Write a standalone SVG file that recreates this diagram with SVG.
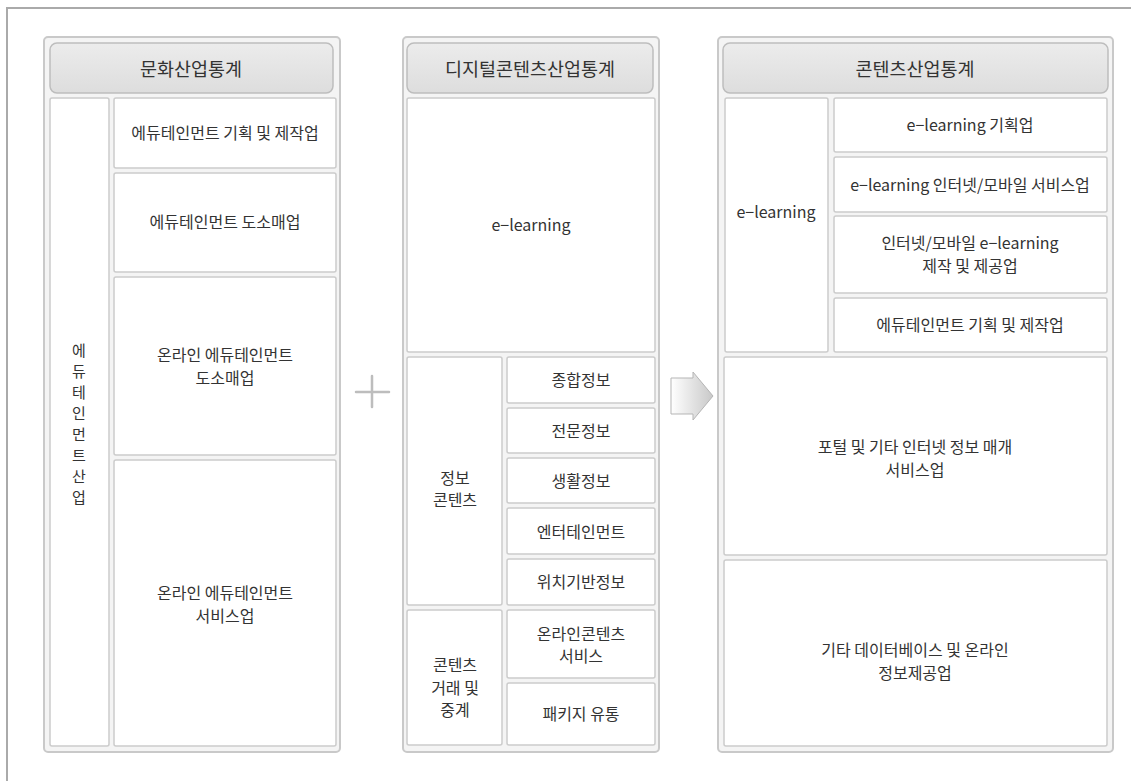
<svg xmlns="http://www.w3.org/2000/svg" width="1131" height="781" viewBox="0 0 1131 781">
<defs>
<linearGradient id="hdr" x1="0" y1="0" x2="0" y2="1"><stop offset="0" stop-color="#ececec"/><stop offset="1" stop-color="#dddddd"/></linearGradient>
<linearGradient id="arr" x1="0" y1="0" x2="1" y2="0"><stop offset="0" stop-color="#ffffff"/><stop offset="1" stop-color="#c8c8c8"/></linearGradient>
<style>
.panel{fill:#f4f4f4;stroke:#c9c9c9;stroke-width:2}
.hdr{fill:url(#hdr);stroke:#bdbdbd;stroke-width:1.5}
.cell{fill:#ffffff;stroke:#cccccc;stroke-width:1.5}
text{font-family:"Noto Sans CJK KR","Noto Sans",sans-serif;fill:#333333;text-anchor:middle}
.h{font-size:18.5px}
.t{font-size:16px}
.v{font-size:15px}
</style>
</defs>
<rect width="1131" height="781" fill="#ffffff"/>
<path d="M1131 8 H7 V781" fill="none" stroke="#aaaaaa" stroke-width="2"/>

<g id="panel-culture">
<rect class="panel" x="44" y="37" width="296" height="715" rx="4"/>
<rect class="hdr" x="50" y="43" width="283" height="50" rx="7"/>
<text class="h" x="191" y="76">문화산업통계</text>
<rect class="cell" x="50" y="98" width="59" height="648" rx="2"/>
<text class="v" x="79" y="356"><tspan x="79">에</tspan><tspan x="79" dy="21">듀</tspan><tspan x="79" dy="21">테</tspan><tspan x="79" dy="21">인</tspan><tspan x="79" dy="21">먼</tspan><tspan x="79" dy="21">트</tspan><tspan x="79" dy="21">산</tspan><tspan x="79" dy="21">업</tspan></text>
<rect class="cell" x="114" y="98" width="222" height="70" rx="2"/>
<text class="t" x="225" y="139">에듀테인먼트 기획 및 제작업</text>
<rect class="cell" x="114" y="173" width="222" height="99" rx="2"/>
<text class="t" x="225" y="228">에듀테인먼트 도소매업</text>
<rect class="cell" x="114" y="277" width="222" height="178" rx="2"/>
<text class="t" x="225" y="361">온라인 에듀테인먼트</text>
<text class="t" x="225" y="384">도소매업</text>
<rect class="cell" x="114" y="460" width="222" height="286" rx="2"/>
<text class="t" x="225" y="599">온라인 에듀테인먼트</text>
<text class="t" x="225" y="622">서비스업</text>
</g>

<g id="panel-digital">
<rect class="panel" x="403" y="37" width="256" height="715" rx="4"/>
<rect class="hdr" x="407" y="43" width="246" height="50" rx="7"/>
<text class="h" x="530" y="76">디지털콘텐츠산업통계</text>
<rect class="cell" x="407" y="98" width="248" height="254" rx="2"/>
<text class="t" x="531" y="231">e−learning</text>
<rect class="cell" x="407" y="357" width="95" height="248" rx="2"/>
<text class="t" x="455" y="484">정보</text>
<text class="t" x="455" y="506">콘텐츠</text>
<rect class="cell" x="507" y="357" width="148" height="46" rx="2"/>
<text class="t" x="581" y="386">종합정보</text>
<rect class="cell" x="507" y="408" width="148" height="45" rx="2"/>
<text class="t" x="581" y="437">전문정보</text>
<rect class="cell" x="507" y="458" width="148" height="45" rx="2"/>
<text class="t" x="581" y="487">생활정보</text>
<rect class="cell" x="507" y="508" width="148" height="46" rx="2"/>
<text class="t" x="581" y="538">엔터테인먼트</text>
<rect class="cell" x="507" y="559" width="148" height="46" rx="2"/>
<text class="t" x="581" y="588">위치기반정보</text>
<rect class="cell" x="407" y="610" width="95" height="135" rx="2"/>
<text class="t" x="455" y="671">콘텐츠</text>
<text class="t" x="455" y="694">거래 및</text>
<text class="t" x="455" y="716">중계</text>
<rect class="cell" x="507" y="610" width="148" height="68" rx="2"/>
<text class="t" x="581" y="640">온라인콘텐츠</text>
<text class="t" x="581" y="662">서비스</text>
<rect class="cell" x="507" y="683" width="148" height="62" rx="2"/>
<text class="t" x="581" y="720">패키지 유통</text>
</g>

<g id="panel-contents">
<rect class="panel" x="718" y="37" width="395" height="715" rx="4"/>
<rect class="hdr" x="723" y="43" width="385" height="50" rx="7"/>
<text class="h" x="915" y="76">콘텐츠산업통계</text>
<rect class="cell" x="725" y="98" width="103" height="254" rx="2"/>
<text class="t" x="776" y="218">e−learning</text>
<rect class="cell" x="834" y="98" width="273" height="54" rx="2"/>
<text class="t" x="970" y="131">e−learning 기획업</text>
<rect class="cell" x="834" y="157" width="273" height="55" rx="2"/>
<text class="t" x="970" y="191">e−learning 인터넷/모바일 서비스업</text>
<rect class="cell" x="834" y="216" width="273" height="77" rx="2"/>
<text class="t" x="970" y="249">인터넷/모바일 e−learning</text>
<text class="t" x="970" y="272">제작 및 제공업</text>
<rect class="cell" x="834" y="298" width="273" height="54" rx="2"/>
<text class="t" x="970" y="331">에듀테인먼트 기획 및 제작업</text>
<rect class="cell" x="724" y="357" width="383" height="198" rx="2"/>
<text class="t" x="915" y="453">포털 및 기타 인터넷 정보 매개</text>
<text class="t" x="915" y="476">서비스업</text>
<rect class="cell" x="724" y="560" width="383" height="186" rx="2"/>
<text class="t" x="915" y="656">기타 데이터베이스 및 온라인</text>
<text class="t" x="915" y="679">정보제공업</text>
</g>

<g id="connectors">
<path d="M356 392 H389 M372 376 V407" stroke="#bdbdbd" stroke-width="2.5" stroke-linecap="round" fill="none"/>
<path d="M671 378 H693 V372 L713 396 L693 420 V414 H671 Z" fill="url(#arr)" stroke="#b5b5b5" stroke-width="1"/>
</g>
</svg>
